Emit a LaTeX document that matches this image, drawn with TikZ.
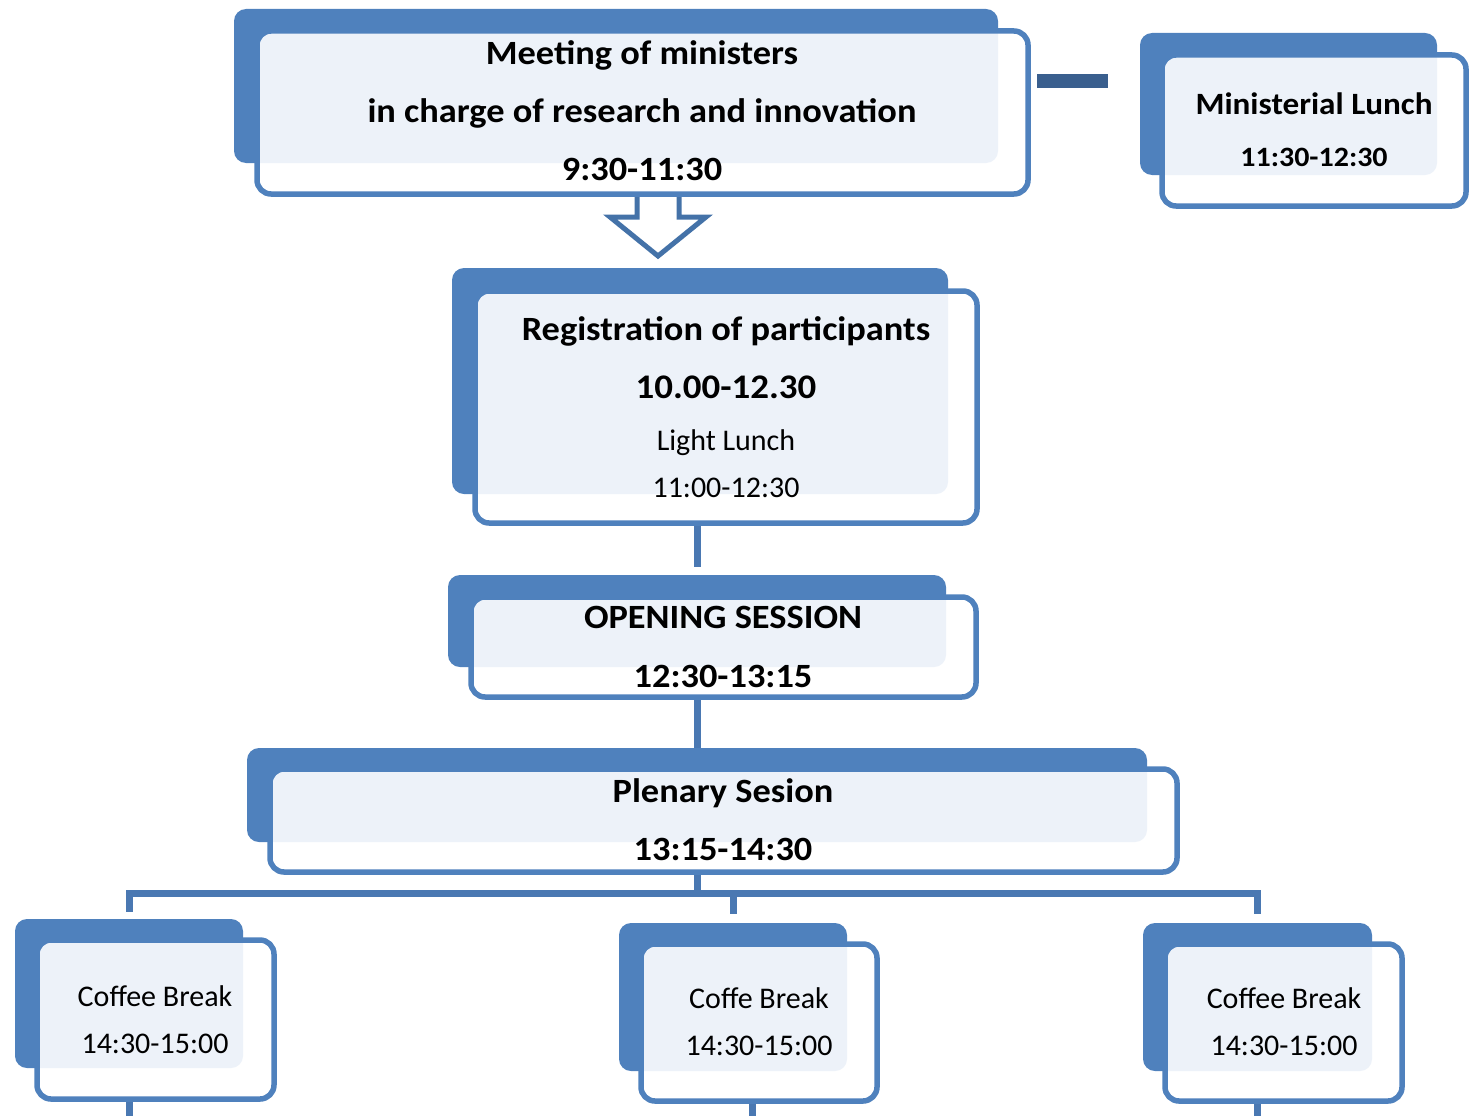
\documentclass[tikz,border=0pt]{standalone}
\usepackage{fontspec}
\setmainfont[BoldFeatures={FakeStretch=1.07}]{Carlito}
\usetikzlibrary{fit,calc}
\pgfdeclarelayer{bg}
\pgfsetlayers{bg,main}
\definecolor{backblue}{HTML}{4F81BD}
\definecolor{lightfill}{HTML}{EDF2F9}
\definecolor{connblue}{HTML}{4A78B2}
\definecolor{dashblue}{HTML}{3A5F8E}
\definecolor{arrowblue}{HTML}{4472A8}
\tikzset{
  backbox/.style={fill=backblue, draw=none, rounded corners=12pt, inner sep=0pt, outer sep=0pt},
  frontbox/.style={fill=white, draw=none, rounded corners=14pt, inner sep=0pt, outer sep=0pt},
  frontline/.style={draw=backblue, line width=5.5pt, rounded corners=14pt},
  conn/.style={draw=connblue, line width=7pt},
  bigtxt/.style={anchor=base, inner sep=0pt, font=\bfseries\fontsize{34}{40}\selectfont},
  midtxt/.style={anchor=base, inner sep=0pt, font=\bfseries\fontsize{31}{36}\selectfont},
  regtxt/.style={anchor=base, inner sep=0pt, font=\fontsize{30}{36}\selectfont},
}
\newcommand\twobox[9]{%
  \node[backbox, fit={(#2,#3) (#4,#5)}] (#1-b) {};
  \node[frontbox, fit={(#6,#7) (#8,#9)}] (#1) {};
  \begin{scope}
    \clip[rounded corners=14pt] (#1.south west) rectangle (#1.north east);
    \fill[lightfill, rounded corners=12pt] (#1-b.south west) rectangle (#1-b.north east);
  \end{scope}
  \draw[frontline] (#1.south west) rectangle (#1.north east);
}
\begin{document}
\begin{tikzpicture}[x=1pt, y=-1pt]
\useasboundingbox (0,0) rectangle (1474,1116);

% boxes
\twobox{meet}{234}{9}{998}{163}{257}{31}{1028}{194}
\twobox{lunch}{1140}{33}{1437}{175}{1162}{55}{1466}{206}
\twobox{reg}{452}{268}{948}{494}{475}{291}{977}{523}
\twobox{open}{448}{575}{946}{667}{471}{597}{976}{697}
\twobox{plen}{247}{748}{1147}{842}{270}{769}{1177}{872}
\twobox{cba}{15}{919}{243}{1068}{37}{940}{274}{1099}
\twobox{cbb}{619}{923}{847}{1071}{641}{944}{877}{1101}
\twobox{cbc}{1143}{923}{1372}{1071}{1165}{944}{1402}{1101}

% texts
\node[bigtxt] (meet-1) at (642,65) {Meeting of ministers};
\node[bigtxt] (meet-2) at (642,122) {in charge of research and innovation};
\node[bigtxt] (meet-3) at (642,180) {9:30-11:30};

\node[midtxt] (lunch-1) at (1314,114) {Ministerial Lunch};
\node[regtxt, font=\bfseries\fontsize{28}{34}\selectfont] (lunch-2) at (1314,166) {11:30-12:30};

\node[bigtxt] (reg-1) at (726,340) {Registration of participants};
\node[bigtxt, font=\bfseries\fontsize{34.5}{42}\selectfont] (reg-2) at (726,398) {10.00-12.30};
\node[regtxt] (reg-3) at (726,450) {Light Lunch};
\node[regtxt] (reg-4) at (726,497) {11:00-12:30};

\node[bigtxt] (open-1) at (723,628) {OPENING SESSION};
\node[bigtxt] (open-2) at (723,687) {12:30-13:15};

\node[bigtxt] (plen-1) at (723,802) {Plenary Sesion};
\node[bigtxt] (plen-2) at (723,860) {13:15-14:30};

\node[regtxt] (cba-1) at (155,1006) {Coffee Break};
\node[regtxt] (cba-2) at (155,1053) {14:30-15:00};
\node[regtxt] (cbb-1) at (759,1008) {Coffe Break};
\node[regtxt] (cbb-2) at (759,1055) {14:30-15:00};
\node[regtxt] (cbc-1) at (1284,1008) {Coffee Break};
\node[regtxt] (cbc-2) at (1284,1055) {14:30-15:00};

% dash between meeting and ministerial lunch
\coordinate (dashA) at (1037,81);
\coordinate (dashB) at (1108,81);
\draw[dashblue, line width=14pt] (dashA) -- (dashB);

% connectors behind the boxes
\coordinate (arr) at (658,188);
\coordinate (bus) at (697,893);
\coordinate (bot) at (0,1116);
\coordinate (cbbout) at (752,1116);
\begin{pgfonlayer}{bg}
  % block arrow from meeting to registration
  \draw[arrowblue, fill=white, line width=5pt, line join=miter]
    ($(arr)+(-21,0)$) -- ($(arr)+(-21,29)$) -- ($(arr)+(-48,29)$) -- ($(arr)+(0,68)$)
    -- ($(arr)+(48,29)$) -- ($(arr)+(21,29)$) -- ($(arr)+(21,0)$);
  \draw[conn, shorten >=8pt] (reg.south -| open-b.north) -- (open-b.north);
  \draw[conn] (open.south -| plen-b.north) -- (plen-b.north);
  \draw[conn] (plen.south -| bus) -- (bus);
  \draw[conn, line cap=rect] (cba-b.north |- bus) -- (cbc-b.north |- bus);
  \draw[conn, shorten >=7pt] (cba-b.north |- bus) -- (cba-b.north);
  \draw[conn, shorten >=9pt] (cbb-b.north |- bus) -- (cbb-b.north);
  \draw[conn, shorten >=9pt] (cbc-b.north |- bus) -- (cbc-b.north);
  \draw[conn] (cba.south -| cba-b.south) -- (cba-b.south |- bot);
  \draw[conn] (cbbout |- cbb.south) -- (cbbout);
  \draw[conn] (cbc.south -| cbc-b.south) -- (cbc-b.south |- bot);
\end{pgfonlayer}
\end{tikzpicture}
\end{document}
